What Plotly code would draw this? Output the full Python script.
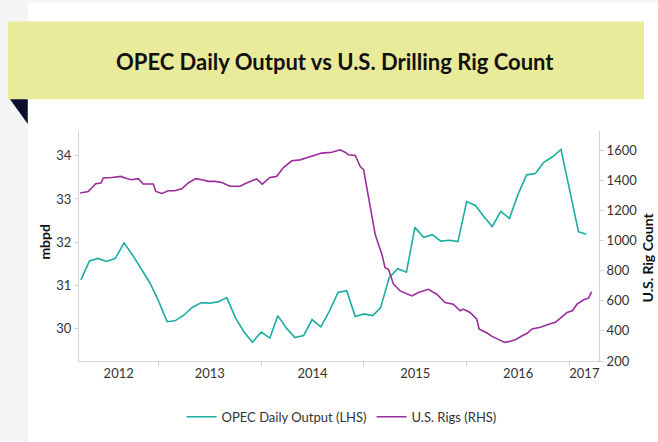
import pandas as pd
import plotly.graph_objects as go

# -------------------------------
# DATA
# -------------------------------
opec_dates = pd.date_range("2012-04-01", "2017-03-01", freq="MS")
opec_mbpd = [
    31.12, 31.56, 31.62, 31.55, 31.62, 31.98, 31.70, 31.38, 31.06,         # 2012 Apr-Dec
    30.64, 30.15, 30.17, 30.30, 30.48, 30.59, 30.58, 30.61, 30.71, 30.25, 29.91, 29.67,  # 2013
    29.91, 29.77, 30.29, 30.00, 29.78, 29.83, 30.20, 30.03, 30.40, 30.83, 30.87, 30.27,  # 2014
    30.33, 30.29, 30.47, 31.18, 31.38, 31.30, 32.34, 32.11, 32.17, 32.02, 32.04, 32.01,  # 2015
    32.94, 32.85, 32.60, 32.36, 32.71, 32.55, 33.10, 33.56, 33.59, 33.85, 33.98, 34.15,  # 2016
    33.20, 32.24, 32.18,                                                   # 2017 Jan-Mar
]

rig_dates = [
    "2012-03-29", "2012-04-27", "2012-05-09", "2012-05-23", "2012-06-11", "2012-06-19",
    "2012-07-19", "2012-08-21", "2012-09-04", "2012-09-28", "2012-10-22", "2012-11-08",
    "2012-12-14", "2012-12-23", "2013-01-13", "2013-02-05", "2013-02-28", "2013-03-25",
    "2013-04-17", "2013-05-14", "2013-06-04", "2013-06-28", "2013-07-21", "2013-08-14",
    "2013-09-12", "2013-10-18", "2013-11-10", "2013-12-16", "2014-01-05", "2014-02-01",
    "2014-02-25", "2014-03-21", "2014-04-20", "2014-05-19", "2014-06-18", "2014-07-11",
    "2014-08-04", "2014-09-09", "2014-10-08", "2014-10-26", "2014-11-07", "2014-12-01",
    "2014-12-19", "2014-12-31", "2015-01-12", "2015-01-23", "2015-02-10", "2015-03-06",
    "2015-03-17", "2015-03-29", "2015-04-16", "2015-05-10", "2015-06-20", "2015-07-14",
    "2015-08-18", "2015-09-17", "2015-10-16", "2015-11-14", "2015-12-09", "2015-12-20",
    "2016-01-13", "2016-02-06", "2016-02-14", "2016-03-13", "2016-03-31", "2016-04-24",
    "2016-05-15", "2016-06-04", "2016-06-22", "2016-07-16", "2016-08-03", "2016-08-20",
    "2016-09-19", "2016-10-13", "2016-11-11", "2016-11-29", "2016-12-23", "2017-01-10",
    "2017-01-27", "2017-02-20", "2017-03-09", "2017-03-20",
]
rig_count = [
    1318, 1328, 1351, 1379, 1384, 1417,
    1421, 1428, 1417, 1406, 1413, 1377,
    1377, 1328, 1315, 1333, 1333, 1346,
    1384, 1413, 1406, 1395, 1395, 1388,
    1362, 1362, 1384, 1411, 1377, 1421,
    1428, 1487, 1532, 1538, 1556, 1567,
    1583, 1589, 1605, 1589, 1572, 1567,
    1494, 1472, 1340, 1218, 1042, 909,
    821, 810, 711, 666, 633, 656,
    677, 644, 589, 578, 534, 545,
    523, 479, 413, 386, 364, 342,
    324, 331, 342, 368, 384, 413,
    424, 441, 457, 485, 523, 534,
    578, 607, 618, 662,
]

year_labels = ["2012", "2013", "2014", "2015", "2016", "2017"]
x_start, x_end = pd.Timestamp("2012-03-25"), pd.Timestamp("2017-04-15")

TEAL = "#1aada1"
PURPLE = "#9a2c9c"
AXIS = "#d4d4d4"
FONT = "Lato"

# year boundaries get tick marks, labels sit in the middle of the visible part of each year
boundaries = [pd.Timestamp(f"{y}-01-01") for y in year_labels[1:]]
label_pos = []
for y in year_labels:
    a = max(pd.Timestamp(f"{y}-01-01"), x_start)
    b = min(pd.Timestamp(f"{int(y) + 1}-01-01"), x_end)
    label_pos.append(a + (b - a) / 2)

fig = go.Figure()

fig.add_trace(go.Scatter(
    x=opec_dates, y=opec_mbpd, mode="lines",
    line=dict(color=TEAL, width=1.6),
    name="OPEC Daily Output (LHS)",
))
fig.add_trace(go.Scatter(
    x=pd.to_datetime(rig_dates), y=rig_count, mode="lines",
    line=dict(color=PURPLE, width=1.6),
    name="U.S. Rigs (RHS)", yaxis="y2",
))

# page decoration: grey left strip, title banner and its folded corner
shapes = [
    dict(type="rect", xref="paper", yref="paper", x0=-0.152, x1=-0.0985, y0=-0.35, y1=1.57,
         fillcolor="#f4f4f4", line=dict(width=0), layer="below"),
    dict(type="rect", xref="paper", yref="paper", x0=-0.152, x1=1.14, y0=1.558, y1=1.57,
         fillcolor="#f4f4f4", line=dict(width=0), layer="below"),
    dict(type="rect", xref="paper", yref="paper", x0=-0.1365, x1=1.0865, y0=1.1385, y1=1.4762,
         fillcolor="#e9eb9b", line=dict(width=0), layer="below"),
    dict(type="path", xref="paper", yref="paper",
         path="M -0.1327 1.1385 L -0.0985 1.1385 L -0.0985 1.0303 Z",
         fillcolor="#0a0f2e", line=dict(width=0), layer="below"),
]

annotations = [
    dict(text="OPEC Daily Output vs U.S. Drilling Rig Count", xref="paper", yref="paper",
         x=0.4923, y=1.303, showarrow=False, xanchor="center", yanchor="middle",
         font=dict(family=FONT, size=22, color="#111111", weight="bold")),
    dict(text="mbpd", xref="paper", yref="paper", x=-0.0654, y=0.519, textangle=-90,
         showarrow=False, xanchor="center", yanchor="middle",
         font=dict(family=FONT, size=14, color="#111111", weight="bold")),
    dict(text="U.S. Rig Count", xref="paper", yref="paper", x=1.0942, y=0.450, textangle=-90,
         showarrow=False, xanchor="center", yanchor="middle",
         font=dict(family=FONT, size=14, color="#111111", weight="bold")),
]

tick_font = dict(family=FONT, size=13, color="#333333")

fig.update_layout(
    width=658, height=442,
    margin=dict(l=79, r=59, t=131, b=80),
    paper_bgcolor="white", plot_bgcolor="white",
    showlegend=True,
    legend=dict(orientation="h", x=0.505, xanchor="center", y=-0.237, yanchor="middle",
                font=dict(family=FONT, size=13, color="#333333"), itemwidth=30),
    xaxis=dict(
        type="date", range=[x_start, x_end],
        tickmode="array", tickvals=label_pos, ticktext=year_labels, ticks="",
        minor=dict(tickmode="array", tickvals=boundaries, ticks="outside",
                   ticklen=5, tickcolor=AXIS, showgrid=False),
        showline=True, linecolor=AXIS, linewidth=1, showgrid=False, zeroline=False,
        tickfont=tick_font,
    ),
    yaxis=dict(
        range=[29.237, 34.578], tickvals=[30, 31, 32, 33, 34],
        ticks="outside", ticklen=4, tickcolor=AXIS,
        showline=True, linecolor=AXIS, linewidth=1, showgrid=False, zeroline=False,
        tickfont=tick_font,
    ),
    yaxis2=dict(
        range=[200, 1730], tickvals=[200, 400, 600, 800, 1000, 1200, 1400, 1600],
        overlaying="y", side="right",
        ticks="outside", ticklen=4, tickcolor=AXIS,
        showline=True, linecolor=AXIS, linewidth=1, showgrid=False, zeroline=False,
        tickfont=tick_font,
    ),
    shapes=shapes,
    annotations=annotations,
)

# the page's default body margin would push the figure 8px right/down
fig.write_html("out.html", config={"displayModeBar": False},
               post_script="document.body.style.margin='0';")
